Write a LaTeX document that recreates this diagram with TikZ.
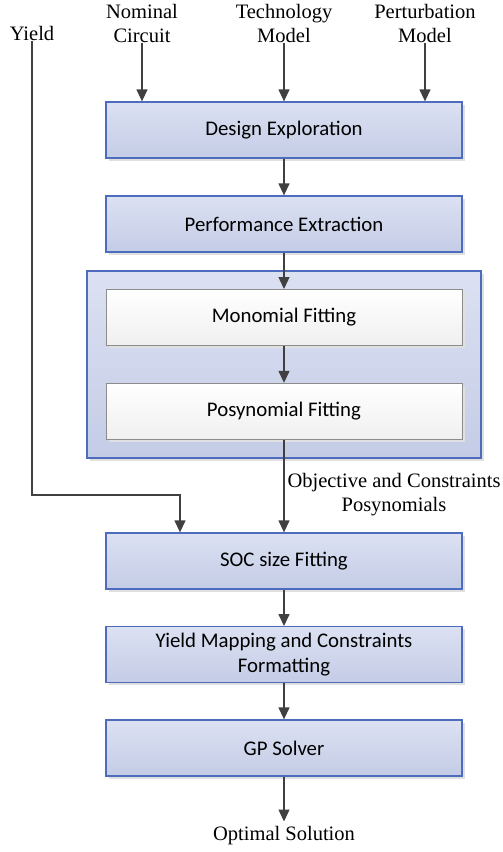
\documentclass[tikz,border=0pt]{standalone}
\usepackage{fontspec}
\setmainfont{Liberation Serif}
\newfontfamily\cf{Carlito}
\usetikzlibrary{arrows.meta, shadows}
\definecolor{boxedge}{HTML}{4E6CBE}
\definecolor{boxtop}{HTML}{DCE1F2}
\definecolor{boxbot}{HTML}{C4CCE6}
\definecolor{grayedge}{HTML}{8C8C8C}
\definecolor{arrowgray}{HTML}{404040}
\tikzset{
  blk/.style={draw=boxedge, line width=1.3pt, top color=boxtop, bottom color=boxbot,
    minimum width=356pt, minimum height=56pt, align=center,
    font=\cf\fontsize{20.8}{25.6}\selectfont,
    drop shadow={shadow xshift=2.5pt, shadow yshift=-2.5pt, fill=black!12, opacity=1}},
  fitblk/.style={blk, draw=grayedge, line width=1pt, top color=white, bottom color=black!6},
  lbl/.style={align=center, font=\fontsize{20.5}{24}\selectfont, inner sep=1pt},
  flow/.style={draw=arrowgray, line width=1.3pt, -{Triangle[length=12pt,width=11pt]}}
}

\begin{document}
\begin{tikzpicture}[x=1pt, y=-1pt]
\useasboundingbox (0,0) rectangle (503,852);

\node[lbl] (yld) at (32,33) {Yield};
\node[lbl] (nom) at (142,23) {Nominal\\Circuit};
\node[lbl] (tech) at (284,23) {Technology\\Model};
\node[lbl] (pert) at (425,23) {Perturbation\\Model};

\node[blk] (des) at (284,130) {Design Exploration};
\node[blk] (perf) at (284,224) {Performance Extraction};
\node[blk, minimum width=394pt, minimum height=187pt] (grp) at (284,364.5) {};
\node[fitblk] (mono) at (284,317.5) {Monomial Fitting};
\node[fitblk] (posy) at (284,411.3) {Posynomial Fitting};
\node[blk] (soc) at (284,561) {SOC size Fitting};
\node[blk] (ymap) at (284,654.7) {Yield Mapping and Constraints\\Formatting};
\node[blk] (gp) at (284,748) {GP Solver};

\node[lbl] (obj) at (394,494.5) {Objective and Constraints\\Posynomials};
\node[lbl] (opt) at (284,836) {Optimal Solution};
\coordinate (ybend) at (180,495);

\draw[flow] (nom.south) -- (nom.south |- des.north);
\draw[flow] (tech.south) -- (tech.south |- des.north);
\draw[flow] (pert.south) -- (pert.south |- des.north);
\draw[flow] (des) -- (perf);
\draw[flow] (perf) -- (mono);
\draw[flow] (mono) -- (posy);
\draw[flow] (posy) -- (soc);
\draw[flow] (yld.south) |- (ybend) -- (ybend |- soc.north);
\draw[flow] (soc) -- (ymap);
\draw[flow] (ymap) -- (gp);
\draw[flow] (gp.south) -- ([yshift=4pt]opt.north);
\end{tikzpicture}
\end{document}
